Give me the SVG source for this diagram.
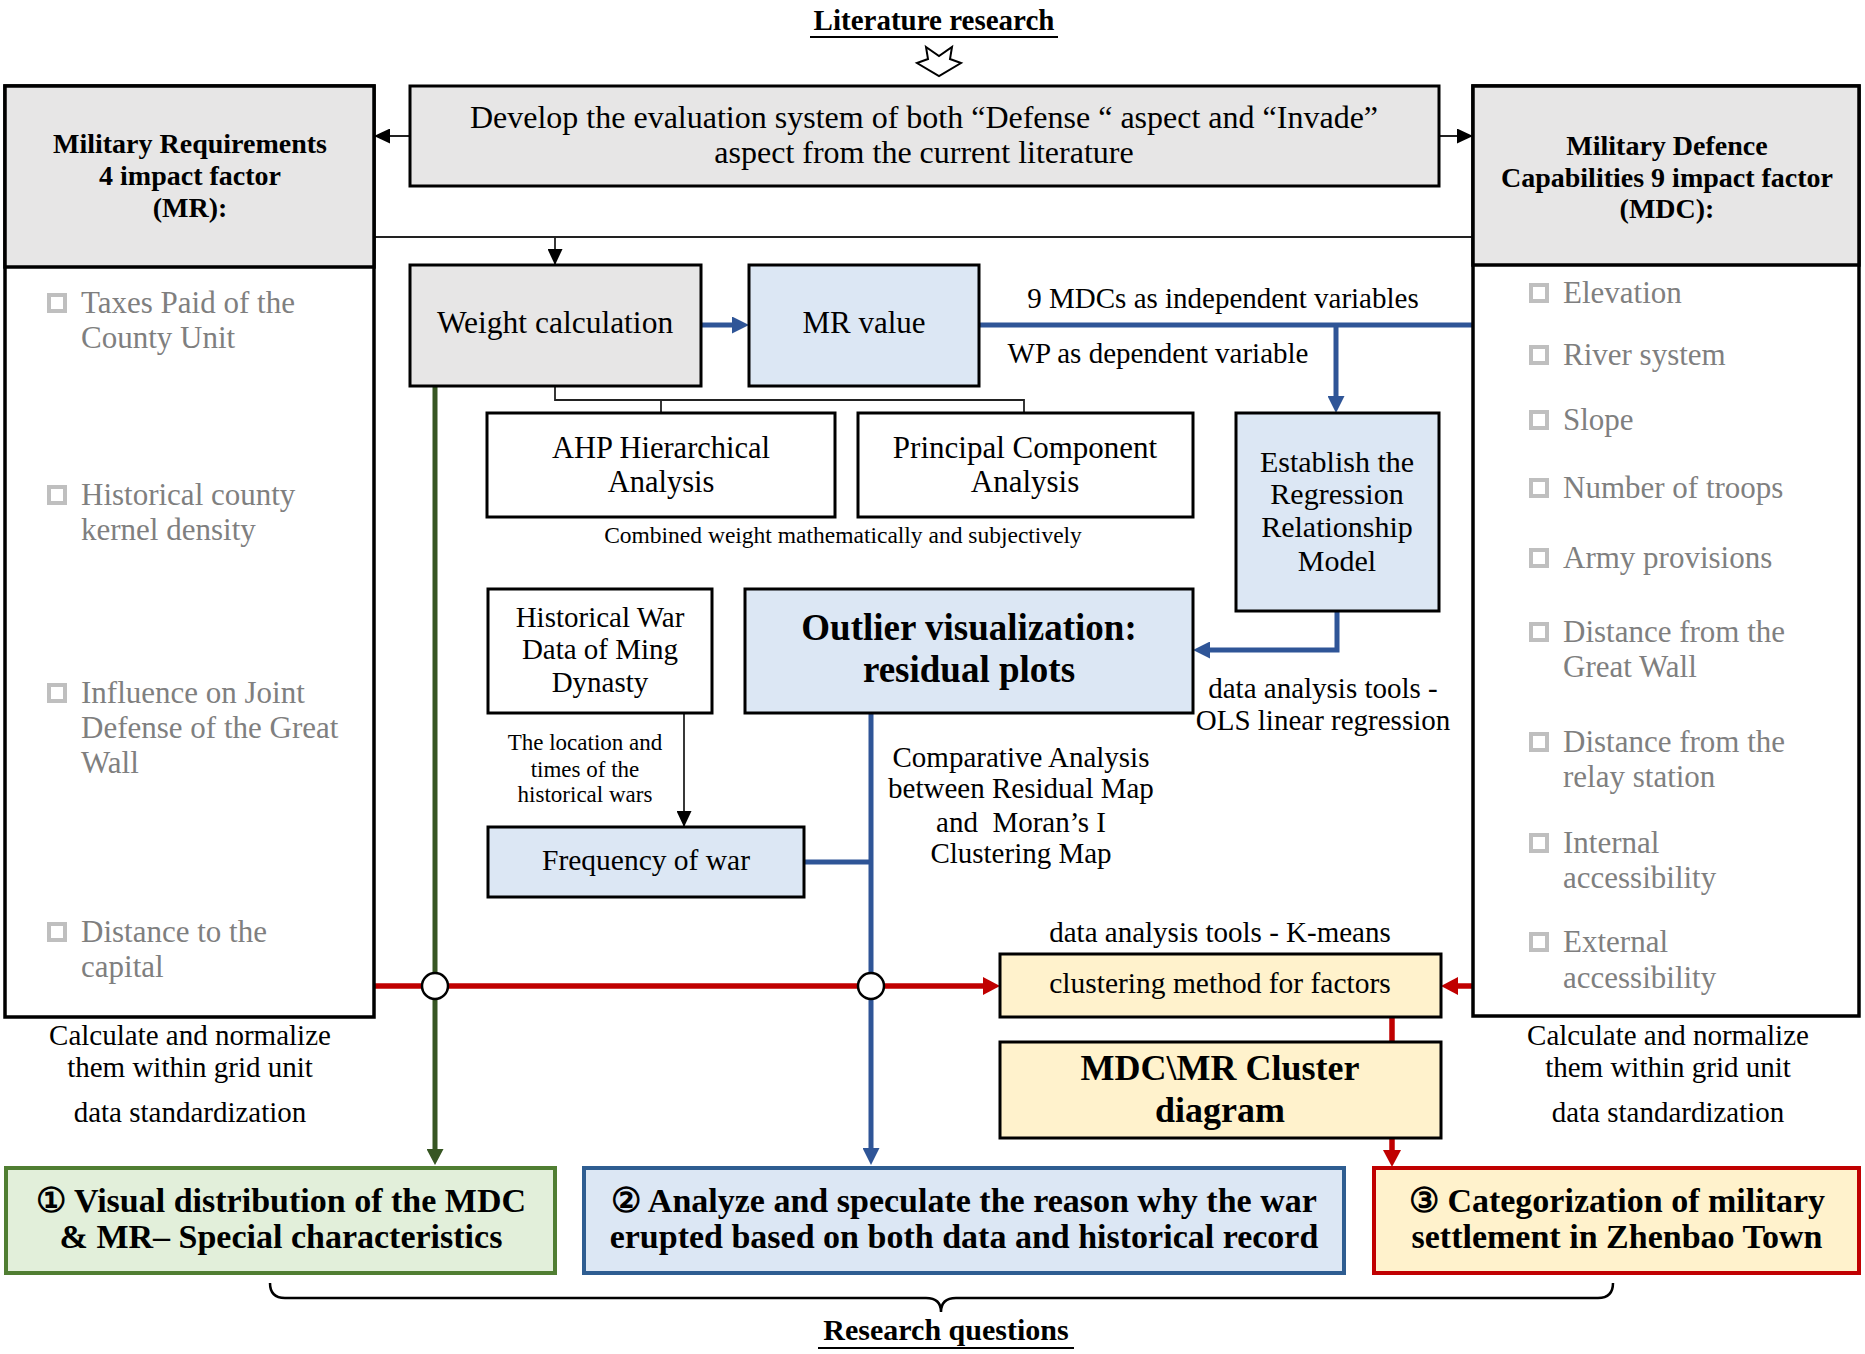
<svg xmlns="http://www.w3.org/2000/svg" width="1865" height="1354" viewBox="0 0 1865 1354">
<style>
text{font-family:"Liberation Serif","DejaVu Serif",serif;fill:#000}
.t{font-weight:bold;font-size:28px;text-anchor:middle}
.li{font-size:31px;fill:#7f7f7f}
.cb{fill:#fff;stroke:#bfbfbf;stroke-width:4}
.box{stroke:#000;stroke-width:3}
.grey{fill:#e7e6e6}
.blue{fill:#dce7f4}
.yel{fill:#fff2cc}
.wh{fill:#fff}
.c{text-anchor:middle}
.b{font-weight:bold}
.thin{fill:none;stroke:#222;stroke-width:1.8}
.bl{fill:none;stroke:#2f5597;stroke-width:5}
.rd{fill:none;stroke:#c00000;stroke-width:5.5}
.gr{fill:none;stroke:#375623;stroke-width:5}
</style>
<defs>
<marker id="mk" markerUnits="userSpaceOnUse" markerWidth="16" markerHeight="15" refX="16" refY="7.5" orient="auto"><path d="M0,0 L16,7.5 L0,15 z" fill="#000"/></marker>
<marker id="mb" markerUnits="userSpaceOnUse" markerWidth="17" markerHeight="17" refX="7" refY="8.5" orient="auto"><path d="M0,0 L17,8.5 L0,17 z" fill="#2f5597"/></marker>
<marker id="mr" markerUnits="userSpaceOnUse" markerWidth="17" markerHeight="18" refX="7" refY="9" orient="auto"><path d="M0,0 L17,9 L0,18 z" fill="#c00000"/></marker>
<marker id="mg" markerUnits="userSpaceOnUse" markerWidth="16" markerHeight="17" refX="6" refY="8.5" orient="auto"><path d="M0,0 L16,8.5 L0,17 z" fill="#375623"/></marker>
</defs>
<rect width="1865" height="1354" fill="#fff"/>

<g id="literature">
<text x="934" y="30" class="c b" font-size="29">Literature research</text>
<line x1="810" y1="37" x2="1058" y2="37" stroke="#000" stroke-width="2"/>
<path d="M926,47 L939,56 L952,47 L950,59 L961,63 L939,76 L917,63 L928,59 Z" fill="#fff" stroke="#000" stroke-width="2" stroke-linejoin="miter"/>
</g>

<g id="connectors">
<path class="thin" d="M410,136 H374" marker-end="url(#mk)"/>
<path class="thin" d="M1439,136 H1473" marker-end="url(#mk)"/>
<path class="thin" d="M374,237 H1473"/>
<path class="thin" d="M555,237 V265" marker-end="url(#mk)"/>
<path class="thin" d="M555,386 V400 H1024 V413 M661,400 V413"/>
<path class="thin" d="M684,713 V827" marker-end="url(#mk)"/>
<path class="gr" d="M435,386 V1155" marker-end="url(#mg)"/>
<path class="bl" d="M701,325 H739" marker-end="url(#mb)"/>
<path class="bl" d="M979,325 H1473"/>
<path class="bl" d="M1336,325 V403" marker-end="url(#mb)"/>
<path class="bl" d="M1337,611 V650 H1203" marker-end="url(#mb)"/>
<path class="bl" d="M804,862 H871"/>
<path class="bl" d="M871,713 V1155" marker-end="url(#mb)"/>
<path class="rd" d="M374,986 H990" marker-end="url(#mr)"/>
<path class="rd" d="M1473,986 H1451" marker-end="url(#mr)"/>
<path class="rd" d="M1392,1017 V1042"/>
<path class="rd" d="M1392,1138 V1157" marker-end="url(#mr)"/>
<circle cx="435" cy="986" r="13" fill="#fff" stroke="#000" stroke-width="2.5"/>
<circle cx="871" cy="986" r="13" fill="#fff" stroke="#000" stroke-width="2.5"/>
<path d="M270,1283 Q270,1298 285,1298 H926 Q941,1298 941,1312 Q941,1298 956,1298 H1598 Q1613,1298 1613,1283" fill="none" stroke="#000" stroke-width="2.5"/>
</g>

<g id="mr-box">
<rect x="5" y="86" width="369" height="931" class="wh" stroke="#000" stroke-width="3.5"/>
<rect x="5" y="86" width="369" height="181" class="grey" stroke="#000" stroke-width="3.5"/>
<text class="t"><tspan x="190" y="153">Military Requirements</tspan><tspan x="190" y="185">4 impact factor</tspan><tspan x="190" y="217">(MR):</tspan></text>
<rect class="cb" x="49" y="295" width="16" height="16"/>
<text class="li"><tspan x="81" y="313">Taxes Paid of the</tspan><tspan x="81" y="348">County Unit</tspan></text>
<rect class="cb" x="49" y="487" width="16" height="16"/>
<text class="li"><tspan x="81" y="505">Historical county</tspan><tspan x="81" y="540">kernel density</tspan></text>
<rect class="cb" x="49" y="685" width="16" height="16"/>
<text class="li"><tspan x="81" y="703">Influence on Joint</tspan><tspan x="81" y="738">Defense of the Great</tspan><tspan x="81" y="773">Wall</tspan></text>
<rect class="cb" x="49" y="924" width="16" height="16"/>
<text class="li"><tspan x="81" y="942">Distance to the</tspan><tspan x="81" y="977">capital</tspan></text>
</g>

<g id="mdc-box">
<rect x="1473" y="86" width="386" height="930" class="wh" stroke="#000" stroke-width="3.5"/>
<rect x="1473" y="86" width="386" height="179" class="grey" stroke="#000" stroke-width="3.5"/>
<text class="t"><tspan x="1667" y="155">Military Defence</tspan><tspan x="1667" y="187">Capabilities 9 impact factor</tspan><tspan x="1667" y="218">(MDC):</tspan></text>
<rect class="cb" x="1531" y="285" width="16" height="16"/>
<text class="li" x="1563" y="303">Elevation</text>
<rect class="cb" x="1531" y="347" width="16" height="16"/>
<text class="li" x="1563" y="365">River system</text>
<rect class="cb" x="1531" y="412" width="16" height="16"/>
<text class="li" x="1563" y="430">Slope</text>
<rect class="cb" x="1531" y="480" width="16" height="16"/>
<text class="li" x="1563" y="498">Number of troops</text>
<rect class="cb" x="1531" y="550" width="16" height="16"/>
<text class="li" x="1563" y="568">Army provisions</text>
<rect class="cb" x="1531" y="624" width="16" height="16"/>
<text class="li"><tspan x="1563" y="642">Distance from the</tspan><tspan x="1563" y="677">Great Wall</tspan></text>
<rect class="cb" x="1531" y="734" width="16" height="16"/>
<text class="li"><tspan x="1563" y="752">Distance from the</tspan><tspan x="1563" y="787">relay station</tspan></text>
<rect class="cb" x="1531" y="835" width="16" height="16"/>
<text class="li"><tspan x="1563" y="853">Internal</tspan><tspan x="1563" y="888">accessibility</tspan></text>
<rect class="cb" x="1531" y="934" width="16" height="16"/>
<text class="li"><tspan x="1563" y="952">External</tspan><tspan x="1563" y="988">accessibility</tspan></text>
</g>

<g id="develop">
<rect x="410" y="86" width="1029" height="100" class="box grey"/>
<text class="c" font-size="32"><tspan x="924" y="128">Develop the evaluation system of both “Defense “ aspect and “Invade”</tspan><tspan x="924" y="163">aspect from the current literature</tspan></text>
</g>

<g id="weight">
<rect x="410" y="265" width="291" height="121" class="box grey"/>
<text class="c" x="555" y="333" font-size="31.5">Weight calculation</text>
</g>

<g id="mr-value">
<rect x="749" y="265" width="230" height="121" class="box blue"/>
<text class="c" x="864" y="333" font-size="31">MR value</text>
</g>

<g id="labels-mdc">
<text class="c" x="1223" y="308" font-size="29">9 MDCs as independent variables</text>
<text class="c" x="1158" y="363" font-size="29">WP as dependent variable</text>
</g>

<g id="ahp">
<rect x="487" y="413" width="348" height="104" class="box wh"/>
<text class="c" font-size="30.5"><tspan x="661" y="458">AHP Hierarchical</tspan><tspan x="661" y="492">Analysis</tspan></text>
</g>

<g id="pca">
<rect x="858" y="413" width="335" height="104" class="box wh"/>
<text class="c" font-size="31"><tspan x="1025" y="458">Principal Component</tspan><tspan x="1025" y="492">Analysis</tspan></text>
</g>

<text class="c" x="843" y="543" font-size="23.5">Combined weight mathematically and subjectively</text>

<g id="establish">
<rect x="1236" y="413" width="203" height="198" class="box blue"/>
<text class="c" font-size="30"><tspan x="1337" y="472">Establish the</tspan><tspan x="1337" y="504">Regression</tspan><tspan x="1337" y="537">Relationship</tspan><tspan x="1337" y="571">Model</tspan></text>
</g>

<text class="c" font-size="29"><tspan x="1323" y="698">data analysis tools -</tspan><tspan x="1323" y="730">OLS linear regression</tspan></text>

<g id="historical">
<rect x="488" y="589" width="224" height="124" class="box wh"/>
<text class="c" font-size="29"><tspan x="600" y="627">Historical War</tspan><tspan x="600" y="659">Data of Ming</tspan><tspan x="600" y="692">Dynasty</tspan></text>
</g>

<text class="c" font-size="23"><tspan x="585" y="750">The location and</tspan><tspan x="585" y="777">times of the</tspan><tspan x="585" y="802">historical wars</tspan></text>

<g id="outlier">
<rect x="745" y="589" width="448" height="124" class="box blue"/>
<text class="c b" font-size="37"><tspan x="969" y="640">Outlier visualization:</tspan><tspan x="969" y="682">residual plots</tspan></text>
</g>

<text class="c" font-size="29" xml:space="preserve"><tspan x="1021" y="767">Comparative Analysis</tspan><tspan x="1021" y="798">between Residual Map</tspan><tspan x="1021" y="832">and  Moran’s I</tspan><tspan x="1021" y="863">Clustering Map</tspan></text>

<g id="frequency">
<rect x="488" y="827" width="316" height="70" class="box blue"/>
<text class="c" x="646" y="870" font-size="29.5">Frequency of war</text>
</g>

<text class="c" x="1220" y="942" font-size="29">data analysis tools - K-means</text>

<g id="clustering">
<rect x="1000" y="954" width="441" height="63" class="box yel"/>
<text class="c" x="1220" y="993" font-size="29.5">clustering method for factors</text>
</g>

<g id="cluster-diagram">
<rect x="1000" y="1042" width="441" height="96" class="box yel"/>
<text class="c b" font-size="36"><tspan x="1220" y="1080">MDC\MR Cluster</tspan><tspan x="1220" y="1122">diagram</tspan></text>
</g>

<g id="notes">
<text class="c" font-size="29"><tspan x="190" y="1045">Calculate and normalize</tspan><tspan x="190" y="1077">them within grid unit</tspan><tspan x="190" y="1122">data standardization</tspan></text>
<text class="c" font-size="29"><tspan x="1668" y="1045">Calculate and normalize</tspan><tspan x="1668" y="1077">them within grid unit</tspan><tspan x="1668" y="1122">data standardization</tspan></text>
</g>

<g id="q1">
<rect x="6" y="1168" width="549" height="105" fill="#e2efda" stroke="#507e32" stroke-width="4"/>
<text class="c b" font-size="34"><tspan x="281" y="1212">① Visual distribution of the MDC</tspan><tspan x="281" y="1248">&amp; MR– Special characteristics</tspan></text>
</g>

<g id="q2">
<rect x="584" y="1168" width="760" height="105" fill="#dce7f4" stroke="#2e5d91" stroke-width="4"/>
<text class="c b" font-size="34"><tspan x="964" y="1212">② Analyze and speculate the reason why the war</tspan><tspan x="964" y="1248">erupted based on both data and historical record</tspan></text>
</g>

<g id="q3">
<rect x="1374" y="1168" width="485" height="105" fill="#fff2cc" stroke="#c00000" stroke-width="4"/>
<text class="c b" font-size="34"><tspan x="1617" y="1212">③ Categorization of military</tspan><tspan x="1617" y="1248">settlement in Zhenbao Town</tspan></text>
</g>

<g id="research-questions">
<text class="c b" x="946" y="1340" font-size="30">Research questions</text>
<line x1="818" y1="1348" x2="1074" y2="1348" stroke="#000" stroke-width="2"/>
</g>
</svg>
